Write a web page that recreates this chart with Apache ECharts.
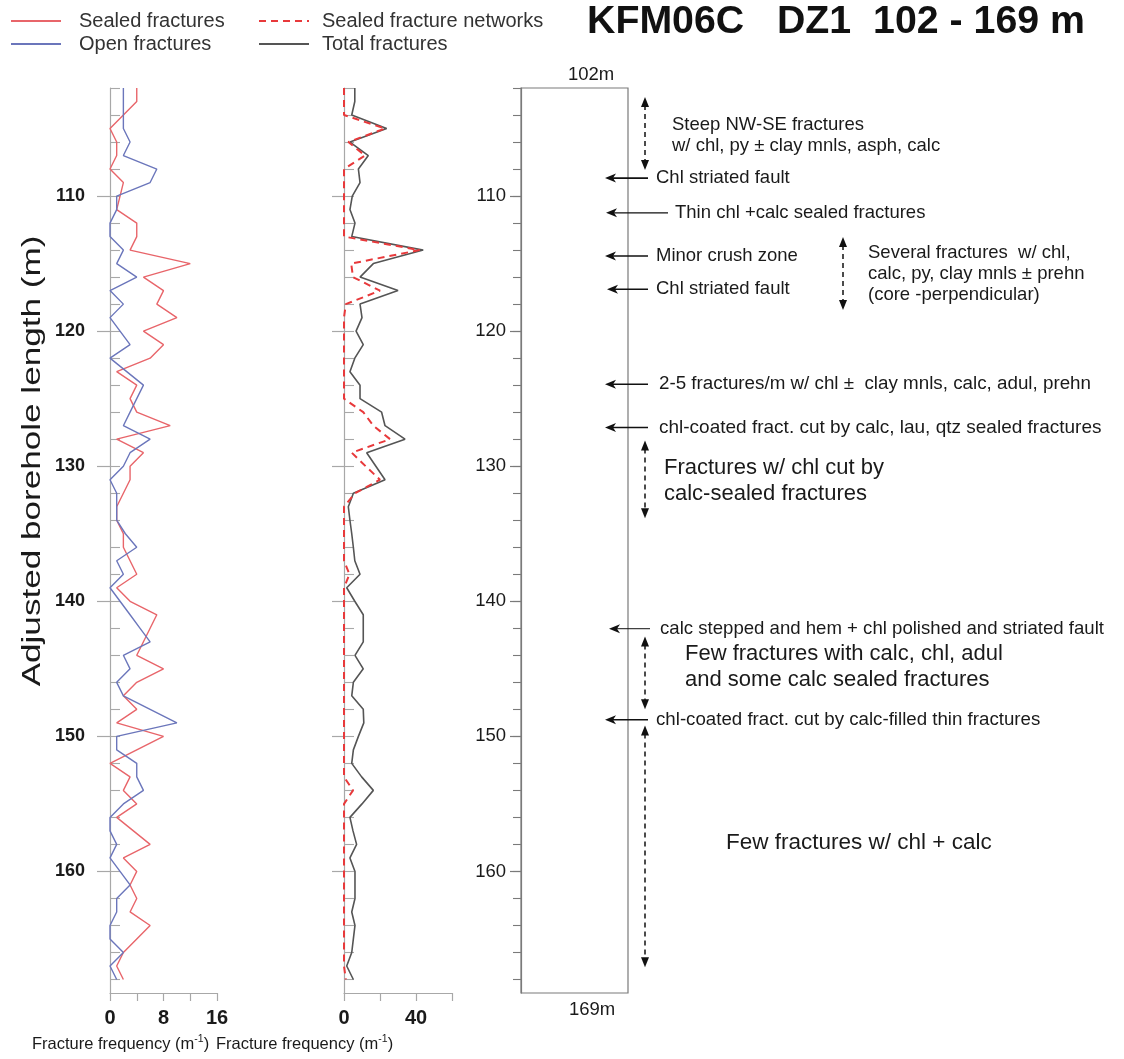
<!DOCTYPE html>
<html><head><meta charset="utf-8">
<script src="https://cdn.jsdelivr.net/npm/echarts@6/dist/echarts.min.js"></script>
<style>html,body{margin:0;padding:0;background:#fff}#c{width:1124px;height:1059px}</style>
</head><body><div id="c"></div>
<script>
// ---------------- data ----------------
const depths = [102,103,104,105,106,107,108,109,110,111,112,113,114,115,116,117,118,119,120,121,
  122,123,124,125,126,127,128,129,130,131,132,133,134,135,136,137,138,139,140,141,
  142,143,144,145,146,147,148,149,150,151,152,153,154,155,156,157,158,159,160,161,
  162,163,164,165,166,167,168];
const sealedFractures = [4,4,2,0,1,1,0,2,1.5,1, 4,4,3,12,5,8,7,10,5,8,
  6,1,4,3,4,9,1,5,3,3, 2,1,1,2,2,3,4,1,3,7, 6,5,4,8,4,2,4,1,8,4,
  0,3,2,4,1,3.5,6,2,4,3, 4,3,6,4,2,1,2];
const openFractures = [2,2,2,2,3,2,7,6,1,1, 0,0,2,1,4,0,2,0,1.5,3,
  0,2.5,5,4,3,2,6,3,2,0, 1,1,1,2.3,4,1,2,0,1.5,3, 4.5,6,2,3,1,2,6,10,1,1,
  4,4,5,2,0,0,1,0,1.5,3, 1,1,0,0,2,0,1];
const totalFractures = [6,6,4.3,23.7,3.3,13.5,8,8.9,4.6,3.3, 6.1,4.3,44,16.3,8.9,30,8.9,10,6.7,10.7,
  6,3.3,8.9,8.9,20.9,22.8,33.9,12.6,17.7,22.8, 5.2,2.4,3.3,4.3,5.2,6,8.9,1.5,6,10.7,
  10.7,10.7,6.1,10.7,5.2,4.3,10.7,11,8,5.2, 4.3,9.8,16.3,10,3.3,5,7,3.3,6.1,6.1,
  6.1,4.3,6.1,5.2,4.3,1.5,5.2];
const sealedNetworks = [0,0,0,22.8,2.4,11.7,0,0,0,0, 0,0,42,4,5,20,1,0,0,0,
  0,0,0,0,10.7,16.3,25.6,4.3,12,20, 6.1,0,0,0,0,0,3,0,0,0, 0,0,0,0,0,0,0,0,0,0,
  0,0,5,0,0,0,0,0,0,0, 0,0,0,0,0,0,1];

const depthMin = 102, depthMax = 169;
const yMajorTicks = [110,120,130,140,150,160];
const yMinorTicks = [102,104,106,108,110,112,114,116,118,120,122,124,126,128,130,132,134,136,138,140,
  142,144,146,148,150,152,154,156,158,160,162,164,166,168];
const xTicksLeft = [0,4,8,12,16], xLabelsLeft = [0,8,16];
const xTicksMid = [0,20,40,60], xLabelsMid = [0,40];

// annotations: pointer arrows (depth, text)
const pointerDepths = [108.67, 111.24, 114.44, 116.9, 123.93, 127.13, 142.03, 148.77];
const pointerTexts = ['Chl striated fault','Thin chl +calc sealed fractures','Minor crush zone','Chl striated fault',
  '2-5 fractures/m w/ chl \u00b1  clay mnls, calc, adul, prehn','chl-coated fract. cut by calc, lau, qtz sealed fractures',
  'calc stepped and hem + chl polished and striated fault','chl-coated fract. cut by calc-filled thin fractures'];
// range arrows (top depth, bottom depth, text centre depth, text)
const rangeTop = [102.67, 113.04, 128.1, 142.6, 149.2];
const rangeBottom = [108.07, 118.44, 133.85, 148.0, 167.1];
const rangeTextDepth = [105.5, 115.76, 131.07, 144.89, 157.85];
const rangeTexts = ['Steep NW-SE fractures\nw/ chl, py \u00b1 clay mnls, asph, calc',
  'Several fractures  w/ chl,\ncalc, py, clay mnls \u00b1 prehn\n(core -perpendicular)',
  'Fractures w/ chl cut by\ncalc-sealed fractures',
  'Few fractures with calc, chl, adul\nand some calc sealed fractures',
  'Few fractures w/ chl + calc'];

// ---------------- layout / style ----------------
const FF = '"Liberation Sans", Arial, Helvetica, sans-serif';
const TXT = '#1a1a1a';
const AX = '#a8a8a8';
const pointerLayout = [
  {tail:20,tip:-23,tx:28,fs:18.5,lw:1.6},{tail:40,tip:-22,tx:47,fs:18.5,lw:1.2},
  {tail:20,tip:-23,tx:28,fs:18.5,lw:1.6},{tail:20,tip:-21,tx:28,fs:18.5,lw:1.6},
  {tail:20,tip:-23,tx:31,fs:18.8,lw:1.6},{tail:20,tip:-23,tx:31,fs:19,lw:1.6},
  {tail:22,tip:-19,tx:32,fs:18.6,lw:1.0},{tail:20,tip:-23,tx:28,fs:18.7,lw:1.6}];
const rangeLayout = [
  {ax:17,tx:44,fs:18.5,lh:21},{ax:215,tx:240,fs:18.5,lh:21},{ax:17,tx:36,fs:22,lh:26},
  {ax:17,tx:57,fs:22,lh:26},{ax:17,tx:98,fs:22.5,lh:26}];

const G = {top:88, height:905};
const toPairs = arr => depths.map((d,i)=>[arr[i], d]);

function yAxisPair(gi, opts) {
  const major = {gridIndex:gi, type:'value', inverse:true, min:depthMin, max:depthMax, position:'left',
    axisLine:{show:true, lineStyle:{color:opts.lineColor, width:1.2}},
    axisTick:{show:true, customValues:opts.majorTicks, length:opts.majorLen, inside:false, lineStyle:{color:opts.tickColor, width:1.2}},
    axisLabel:{show:opts.labels, customValues:yMajorTicks, fontFamily:FF, fontSize:opts.labelSize, fontWeight:opts.labelWeight, color:TXT, margin:opts.labelMargin},
    splitLine:{show:false}};
  const minor = {gridIndex:gi, type:'value', inverse:true, min:depthMin, max:depthMax, position:'left', offset:0,
    axisLine:{show:false},
    axisTick:{show:true, customValues:yMinorTicks, length:opts.minorLen, inside:opts.minorInside, lineStyle:{color:opts.tickColor, width:1.1}},
    axisLabel:{show:false}, splitLine:{show:false}};
  return [major, minor];
}

const yAxes = [
  ...yAxisPair(0,{lineColor:AX,tickColor:AX,majorTicks:yMajorTicks,majorLen:13,minorLen:10,minorInside:true,labels:true,labelSize:18,labelWeight:'bold',labelMargin:25}),
  ...yAxisPair(1,{lineColor:AX,tickColor:AX,majorTicks:yMajorTicks,majorLen:12,minorLen:10,minorInside:true,labels:false,labelSize:17,labelWeight:'normal',labelMargin:8}),
  ...yAxisPair(2,{lineColor:'#7a7a7a',tickColor:'#7a7a7a',majorTicks:yMajorTicks,majorLen:11,minorLen:8,minorInside:false,labels:true,labelSize:18.5,labelWeight:'normal',labelMargin:15})
];

function xAxisDef(gi, max, ticks, labels) {
  return {gridIndex:gi, type:'value', min:0, max:max, position:'bottom',
    axisLine:{show:true, lineStyle:{color:AX, width:1.2}},
    axisTick:{show:true, customValues:ticks, length:8, lineStyle:{color:AX, width:1.2}},
    axisLabel:{show:true, customValues:labels, fontFamily:FF, fontSize:20, fontWeight:'bold', color:TXT, margin:15},
    splitLine:{show:false}};
}

function renderPointer(params, api) {
  const i = params.dataIndex, L = pointerLayout[i];
  const p = api.coord([1, api.value(1)]);
  const x0 = p[0], y = p[1];
  const tip = x0 + L.tip;
  return {type:'group', children:[
    {type:'line', shape:{x1:x0+L.tail, y1:y, x2:tip+6, y2:y}, style:{stroke:'#111', lineWidth:L.lw}},
    {type:'polygon', shape:{points:[[tip,y],[tip+11,y-4.5],[tip+8,y],[tip+11,y+4.5]]}, style:{fill:'#111'}},
    {type:'text', x:x0+L.tx, y:y, style:{text:pointerTexts[i], fontFamily:FF, fontSize:L.fs, fill:TXT, align:'left', verticalAlign:'middle'}}
  ]};
}
function renderRange(params, api) {
  const i = params.dataIndex, L = rangeLayout[i];
  const a = api.coord([1, api.value(1)]), b = api.coord([1, api.value(2)]), c = api.coord([1, api.value(3)]);
  const x = a[0] + L.ax, y1 = a[1], y2 = b[1];
  return {type:'group', children:[
    {type:'line', shape:{x1:x, y1:y1+8, x2:x, y2:y2-8}, style:{stroke:'#111', lineWidth:1.5, lineDash:[5,4]}},
    {type:'polygon', shape:{points:[[x,y1],[x-4,y1+10],[x+4,y1+10]]}, style:{fill:'#111'}},
    {type:'polygon', shape:{points:[[x,y2],[x-4,y2-10],[x+4,y2-10]]}, style:{fill:'#111'}},
    {type:'text', x:a[0]+L.tx, y:c[1], style:{text:rangeTexts[i], fontFamily:FF, fontSize:L.fs, lineHeight:L.lh, fill:TXT, align:'left', verticalAlign:'middle'}}
  ]};
}

const supRich = {a:{fontFamily:FF, fontSize:16.5, fontWeight:'normal', color:TXT}, s:{fontFamily:FF, fontSize:10.5, fontWeight:'normal', color:TXT, padding:[0,0,9,0]}};

const legendBase = {orient:'vertical', top:11, padding:0, itemGap:3, itemWidth:50, itemHeight:14,
  itemStyle:{opacity:0, borderWidth:0}};

const option = {
  animation:false,
  backgroundColor:'#fff',
  title:[
    {text:'KFM06C   DZ1  102 - 169 m', left:587, top:3, padding:0, textStyle:{fontFamily:FF, fontSize:39.3, fontWeight:'bold', color:'#111'}},
    {text:'{a|Fracture frequency (m}{s|-1}{a|)}', left:32, top:1034, padding:0, textStyle:{fontWeight:'normal', rich:supRich}},
    {text:'{a|Fracture frequency (m}{s|-1}{a|)}', left:216, top:1034, padding:0, textStyle:{fontWeight:'normal', rich:supRich}},
    {text:'102m', left:568, top:65, padding:0, textStyle:{fontFamily:FF, fontSize:18.5, fontWeight:'normal', color:TXT}},
    {text:'169m', left:569, top:1000, padding:0, textStyle:{fontFamily:FF, fontSize:18.5, fontWeight:'normal', color:TXT}}
  ],
  legend:[
    Object.assign({data:['Sealed fractures','Open fractures'], left:10,
      textStyle:{fontFamily:FF, fontSize:20, color:'#333', padding:[0,0,0,13]}}, legendBase),
    Object.assign({data:['Sealed fracture networks','Total fractures'], left:258,
      textStyle:{fontFamily:FF, fontSize:20, color:'#333', padding:[0,0,0,8]}}, legendBase)
  ],
  graphic:[
    {type:'text', x:33, y:461, rotation:Math.PI/2, scaleX:1.35, scaleY:1, style:{text:'Adjusted borehole length (m)', fontFamily:FF, fontSize:26, fill:TXT, align:'center', verticalAlign:'middle'}}
  ],
  grid:[
    {left:110, width:107, top:G.top, height:G.height, outerBoundsMode:'none', containLabel:false},
    {left:344, width:108, top:G.top, height:G.height, outerBoundsMode:'none', containLabel:false},
    {left:521, width:107, top:G.top, height:G.height, outerBoundsMode:'none', containLabel:false, show:true, borderColor:'#7a7a7a', borderWidth:1.2, backgroundColor:'transparent'}
  ],
  xAxis:[
    xAxisDef(0, 16, xTicksLeft, xLabelsLeft),
    xAxisDef(1, 60, xTicksMid, xLabelsMid),
    {gridIndex:2, type:'value', min:0, max:1, show:false}
  ],
  yAxis: yAxes,
  series:[
    {name:'Sealed fractures', type:'line', xAxisIndex:0, yAxisIndex:0, data:toPairs(sealedFractures), symbol:'none', color:'#e8656a', lineStyle:{width:1.4, color:'#e8656a'}},
    {name:'Open fractures', type:'line', xAxisIndex:0, yAxisIndex:0, data:toPairs(openFractures), symbol:'none', color:'#6b76bb', lineStyle:{width:1.4, color:'#6b76bb'}},
    {name:'Total fractures', type:'line', xAxisIndex:1, yAxisIndex:2, data:toPairs(totalFractures), symbol:'none', color:'#555', lineStyle:{width:1.6, color:'#555'}},
    {name:'Sealed fracture networks', type:'line', xAxisIndex:1, yAxisIndex:2, data:toPairs(sealedNetworks), symbol:'none', color:'#e8393b', lineStyle:{width:2, type:[7,5], color:'#e8393b'}},
    {type:'custom', xAxisIndex:2, yAxisIndex:4, clip:false, silent:true, renderItem:renderPointer, data:pointerDepths.map(d=>[1,d])},
    {type:'custom', xAxisIndex:2, yAxisIndex:4, clip:false, silent:true, renderItem:renderRange, data:rangeTop.map((d,i)=>[1,d,rangeBottom[i],rangeTextDepth[i]])}
  ]
};
const chart = echarts.init(document.getElementById('c'), null, {renderer:'canvas'});
chart.setOption(option);
</script></body></html>
